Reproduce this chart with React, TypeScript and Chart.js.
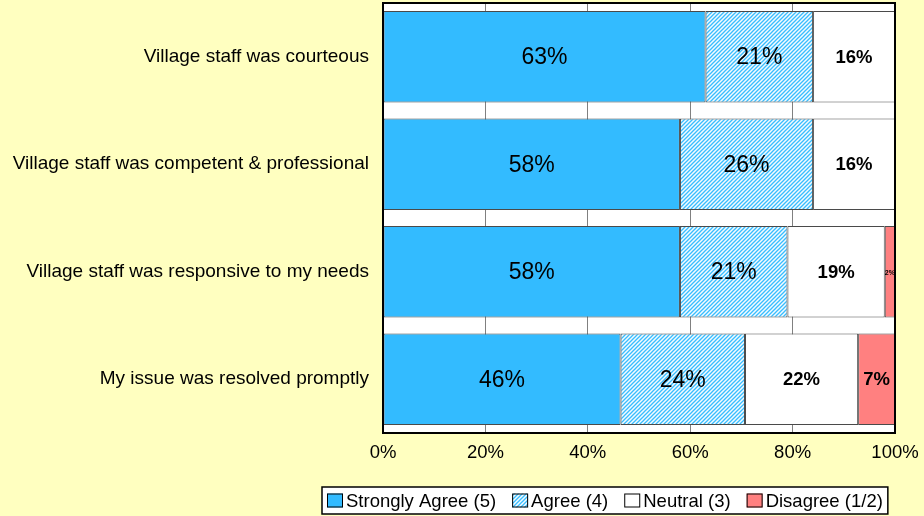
import React, { useEffect, useRef } from 'react';
import { Chart, registerables } from 'chart.js';
Chart.register(...registerables);

const categories = [
  'Village staff was courteous',
  'Village staff was competent & professional',
  'Village staff was responsive to my needs',
  'My issue was resolved promptly',
];
const stronglyAgree = [63, 58, 58, 46.4];
const agree = [21, 26, 21, 24.3];
const neutral = [16, 16, 19, 22.1];
const disagree = [0, 0, 2, 7.2];
const seriesNames = ['Strongly Agree (5)', 'Agree (4)', 'Neutral (3)', 'Disagree (1/2)'];
const xTickValues = [0, 20, 40, 60, 80, 100];

const BG = '#FFFFC0';
const BLUE = '#33BBFF';
const RED = '#FF8080';

function makeHatch(): CanvasPattern | string {
  const c = document.createElement('canvas');
  c.width = 4;
  c.height = 4;
  const g = c.getContext('2d');
  if (!g) return '#9FDCFF';
  g.fillStyle = '#F4FBFF';
  g.fillRect(0, 0, 4, 4);
  g.strokeStyle = '#38BDFF';
  g.lineWidth = 1.3;
  g.beginPath();
  g.moveTo(-1, 5);
  g.lineTo(5, -1);
  g.moveTo(-3, 3);
  g.lineTo(3, -3);
  g.moveTo(1, 7);
  g.lineTo(7, 1);
  g.stroke();
  const p = g.createPattern(c, 'repeat');
  return p || '#9FDCFF';
}

export default function App() {
  const ref = useRef<HTMLCanvasElement | null>(null);
  useEffect(() => {
    document.body.style.margin = '0';
    document.body.style.background = BG;
    const canvas = ref.current;
    if (!canvas) return;
    const hatch = makeHatch();
    const fills: any[] = [BLUE, hatch, '#FFFFFF', RED];

    const labelPlugin = {
      id: 'labels',
      afterDatasetsDraw(chart: any) {
        const ctx = chart.ctx;
        ctx.save();
        ctx.textAlign = 'center';
        ctx.textBaseline = 'middle';
        ctx.fillStyle = '#000';
        chart.data.datasets.forEach((ds: any, di: number) => {
          const meta = chart.getDatasetMeta(di);
          meta.data.forEach((bar: any, i: number) => {
            const v = ds.data[i];
            if (!v) return;
            const x = (bar.x + bar.base) / 2;
            const y = bar.y;
            let font = '23px Arial';
            if (di >= 2) font = 'bold 18.5px Arial';
            if (v < 4) font = 'bold 7px Arial';
            ctx.font = font;
            ctx.fillText(Math.round(v) + '%', x, y + 1);
          });
        });
        ctx.restore();
      },
    };

    const framePlugin = {
      id: 'frame',
      afterDraw(chart: any) {
        const ctx = chart.ctx;
        const a = chart.chartArea;
        ctx.save();
        ctx.strokeStyle = '#000';
        ctx.lineWidth = 2;
        ctx.strokeRect(a.left, a.top, a.right - a.left, a.bottom - a.top);
        // legend
        ctx.font = '18.5px Arial';
        ctx.textBaseline = 'middle';
        ctx.textAlign = 'left';
        const box = 16;
        const gap = 3;
        const spacing = 16;
        const widths = seriesNames.map((n) => box + gap + ctx.measureText(n).width);
        const total = widths.reduce((s, w) => s + w, 0) + spacing * (seriesNames.length - 1);
        const padX = 5;
        const cx = 605;
        const left = Math.round(cx - total / 2 - padX);
        const top = 487;
        const h = 27;
        ctx.fillStyle = '#FFFFFF';
        ctx.fillRect(left, top, total + padX * 2, h);
        ctx.lineWidth = 1.5;
        ctx.strokeStyle = '#000';
        ctx.strokeRect(left, top, total + padX * 2, h);
        let x = left + padX;
        const cy = top + h / 2;
        seriesNames.forEach((n, i) => {
          ctx.fillStyle = fills[i];
          ctx.fillRect(x, cy - 7, box, 14);
          ctx.lineWidth = 1;
          ctx.strokeStyle = '#000';
          ctx.strokeRect(x + 0.5, cy - 6.5, box - 1, 13);
          ctx.fillStyle = '#000';
          ctx.fillText(n, x + box + gap, cy + 1);
          x += widths[i] + spacing;
        });
        ctx.restore();
      },
    };

    const bgPlugin = {
      id: 'bg',
      beforeDraw(chart: any) {
        const ctx = chart.ctx;
        ctx.save();
        ctx.fillStyle = BG;
        ctx.fillRect(0, 0, chart.width, chart.height);
        const a = chart.chartArea;
        ctx.fillStyle = '#FFFFFF';
        ctx.fillRect(a.left, a.top, a.right - a.left, a.bottom - a.top);
        ctx.restore();
      },
    };

    const seriesData = [stronglyAgree, agree, neutral, disagree];
    const chart = new Chart(canvas, {
      type: 'bar',
      data: {
        labels: categories,
        datasets: seriesData.map((d, i) => ({
          label: seriesNames[i],
          data: d,
          backgroundColor: fills[i],
          borderColor: '#4A4A4A',
          borderWidth: 1,
          borderSkipped: false,
          barPercentage: 0.85,
          categoryPercentage: 1,
        })),
      },
      options: {
        indexAxis: 'y',
        responsive: false,
        animation: false,
        layout: { padding: { left: 0, right: 29, top: 3, bottom: 43 } },
        plugins: { legend: { display: false }, tooltip: { enabled: false } },
        scales: {
          x: {
            stacked: true,
            min: 0,
            max: 100,
            afterBuildTicks(scale: any) {
              scale.ticks = xTickValues.map((v) => ({ value: v }));
            },
            afterFit(scale: any) {
              scale.height = 40;
              scale.paddingLeft = 0;
              scale.paddingRight = 0;
            },
            ticks: {
              callback: (v: any) => v + '%',
              color: '#000',
              font: { family: 'Arial', size: 18.5 },
              padding: 9,
              maxRotation: 0,
            },
            grid: { color: '#808080', drawTicks: false },
            border: { display: false },
          },
          y: {
            stacked: true,
            afterFit(scale: any) {
              scale.width = 383;
              scale.paddingTop = 0;
              scale.paddingBottom = 0;
            },
            ticks: {
              color: '#000',
              font: { family: 'Arial', size: 19 },
              padding: 14,
            },
            grid: { display: false, drawTicks: false },
            border: { display: false },
          },
        },
      },
      plugins: [bgPlugin, labelPlugin, framePlugin],
    });
    return () => chart.destroy();
  }, []);
  return <canvas ref={ref} width={924} height={516} style={{ display: 'block' }} />;
}
